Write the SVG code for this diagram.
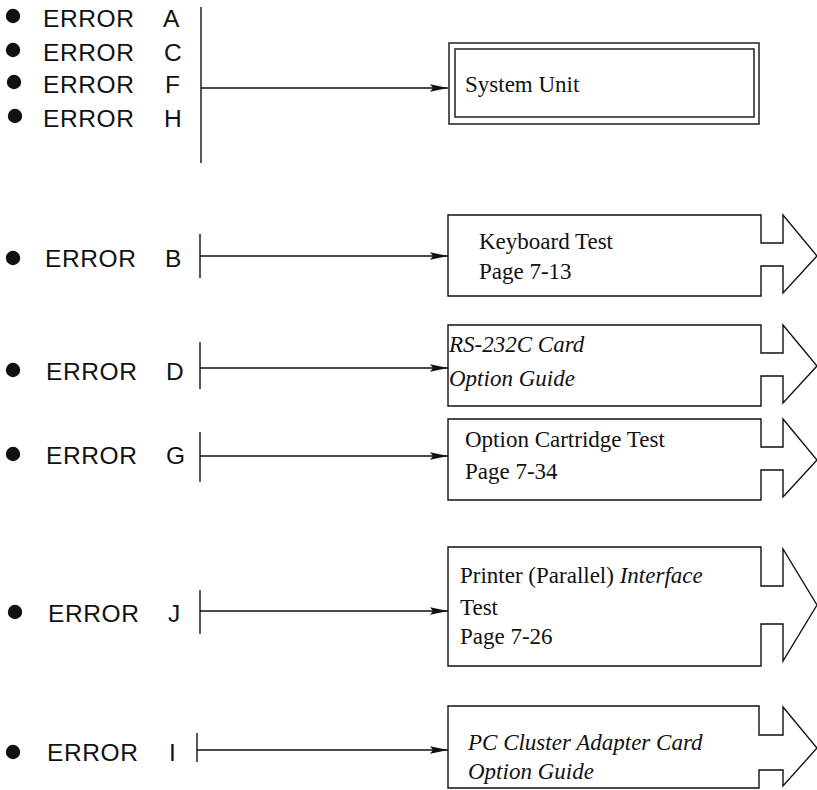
<svg xmlns="http://www.w3.org/2000/svg" width="817" height="790" viewBox="0 0 817 790">
<defs>
<marker id="ah" viewBox="0 0 18 10" refX="18" refY="5" markerWidth="18" markerHeight="10" markerUnits="userSpaceOnUse" orient="auto">
<path d="M0,1.2 L18,5 L0,8.8 L3,5 Z" fill="#111"/>
</marker>
</defs>
<style>
.err{font-family:"Liberation Sans",Arial,sans-serif;font-size:24.5px;fill:#111;letter-spacing:0.6px}
.bt{font-family:"Liberation Serif","Times New Roman",serif;font-size:23px;fill:#111}
.it{font-style:italic}
.ln{stroke:#111;stroke-width:1.4;fill:none}
.bx{stroke:#111;stroke-width:1.4;fill:#fff}
.dot{fill:#111}
</style>
<rect width="817" height="790" fill="#fff"/>

<g id="labels">
<g id="err-A"><circle class="dot" cx="13" cy="16" r="7.2"/><text class="err" x="43" y="27">ERROR</text><text class="err" x="163" y="27">A</text></g>
<g id="err-C"><circle class="dot" cx="13" cy="50" r="7.2"/><text class="err" x="43" y="61">ERROR</text><text class="err" x="164" y="61">C</text></g>
<g id="err-F"><circle class="dot" cx="14" cy="82" r="7.2"/><text class="err" x="43" y="93">ERROR</text><text class="err" x="165" y="93">F</text></g>
<g id="err-H"><circle class="dot" cx="15" cy="116" r="7.2"/><text class="err" x="43" y="127">ERROR</text><text class="err" x="164" y="127">H</text></g>
<g id="err-B"><circle class="dot" cx="13" cy="258" r="7.2"/><text class="err" x="45" y="267">ERROR</text><text class="err" x="165" y="267">B</text></g>
<g id="err-D"><circle class="dot" cx="13" cy="370" r="7.2"/><text class="err" x="46" y="380">ERROR</text><text class="err" x="166" y="380">D</text></g>
<g id="err-G"><circle class="dot" cx="13" cy="454" r="7.2"/><text class="err" x="46" y="464">ERROR</text><text class="err" x="166" y="464">G</text></g>
<g id="err-J"><circle class="dot" cx="15" cy="612" r="7.2"/><text class="err" x="48" y="622">ERROR</text><text class="err" x="168" y="622">J</text></g>
<g id="err-I"><circle class="dot" cx="13" cy="752" r="7.2"/><text class="err" x="47" y="761">ERROR</text><text class="err" x="169" y="761">I</text></g>
</g>

<g id="connectors">
<line class="ln" x1="201" y1="7" x2="201" y2="163"/>
<line class="ln" x1="201" y1="88" x2="448" y2="88" marker-end="url(#ah)"/>
<line class="ln" x1="200" y1="234" x2="200" y2="278"/>
<line class="ln" x1="200" y1="256" x2="448" y2="256" marker-end="url(#ah)"/>
<line class="ln" x1="200" y1="342" x2="200" y2="389"/>
<line class="ln" x1="200" y1="368" x2="448" y2="368" marker-end="url(#ah)"/>
<line class="ln" x1="200" y1="432" x2="200" y2="482"/>
<line class="ln" x1="200" y1="456" x2="448" y2="456" marker-end="url(#ah)"/>
<line class="ln" x1="200" y1="590" x2="200" y2="634"/>
<line class="ln" x1="200" y1="611" x2="448" y2="611" marker-end="url(#ah)"/>
<line class="ln" x1="197" y1="733" x2="197" y2="762"/>
<line class="ln" x1="197" y1="750" x2="448" y2="750" marker-end="url(#ah)"/>
</g>

<g id="system-unit">
<rect class="bx" x="449" y="43" width="310" height="81"/>
<rect class="bx" x="455" y="49" width="299" height="68"/>
<text class="bt" x="465" y="92">System Unit</text>
</g>

<g id="keyboard-test">
<path class="bx" d="M448,215 H761 V243 H783 V215 L817,256 L783,293 V266 H761 V296 H448 Z"/>
<text class="bt" x="479" y="249">Keyboard Test</text>
<text class="bt" x="479" y="279">Page 7-13</text>
</g>

<g id="rs232c">
<path class="bx" d="M448,325 H761 V353 H783 V325 L817,366 L783,403 V376 H761 V406 H448 Z"/>
<text class="bt it" x="449" y="352">RS-232C Card</text>
<text class="bt it" x="449" y="386">Option Guide</text>
</g>

<g id="option-cartridge">
<path class="bx" d="M448,419 H761 V447 H783 V419 L817,460 L783,497 V470 H761 V500 H448 Z"/>
<text class="bt" x="465" y="447">Option Cartridge Test</text>
<text class="bt" x="465" y="479">Page 7-34</text>
</g>

<g id="printer">
<path class="bx" d="M448,547 H761 V586 H783 V549 L817,605 L783,661 V624 H761 V666 H448 Z"/>
<text class="bt" x="460" y="583">Printer (Parallel) <tspan class="it">Interface</tspan></text>
<text class="bt" x="460" y="615">Test</text>
<text class="bt" x="460" y="644">Page 7-26</text>
</g>

<g id="pc-cluster">
<path class="bx" d="M448,706 H759 V735 H783 V707 L817,748 L783,786 V770 H759 V788 H448 Z"/>
<text class="bt it" x="468" y="750">PC Cluster Adapter Card</text>
<text class="bt it" x="468" y="779">Option Guide</text>
</g>
</svg>
